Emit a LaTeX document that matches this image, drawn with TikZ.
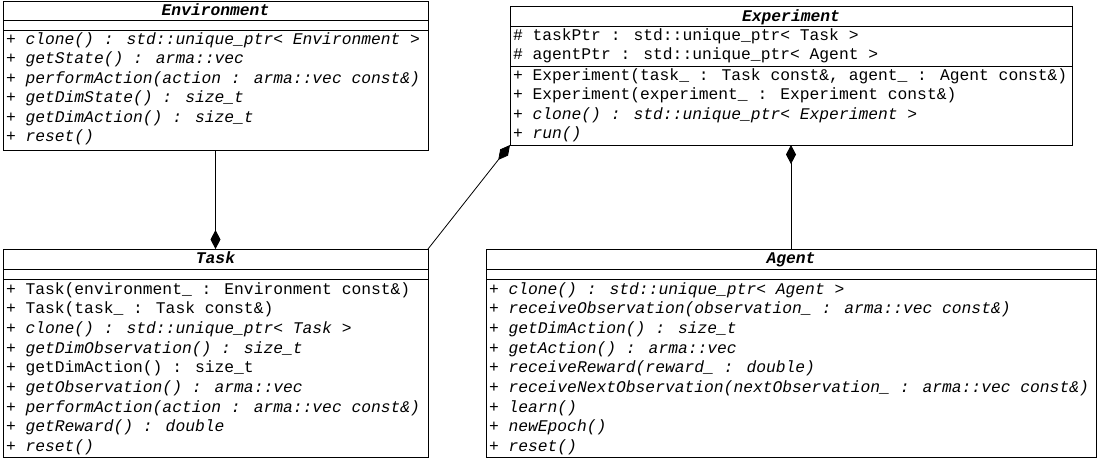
\documentclass[tikz,border=0pt]{standalone}
\usepackage{fontspec}
\newfontfamily\umlfont{Liberation Mono}
\usetikzlibrary{arrows.meta}
\begin{document}
\begin{tikzpicture}[x=1pt,y=-1pt,line width=1pt,
  cls/.style={draw, anchor=north west, inner sep=0pt, outer sep=0pt},
  txt/.style={anchor=base west, inner sep=0pt, outer sep=0pt, font=\umlfont\fontsize{16.3}{19}\selectfont},
  itx/.style={txt, font=\umlfont\fontsize{16.3}{19}\selectfont\itshape},
  ttl/.style={anchor=base, inner sep=0pt, outer sep=0pt, font=\umlfont\fontsize{16.3}{19}\selectfont\bfseries\itshape},
  comp/.style={-{Diamond[length=19pt,width=10pt]}, line width=0.8pt}]
\useasboundingbox[fill=white] (0,0) rectangle (1100,459);

% ---------- Environment ----------
\node[cls, minimum width=425pt, minimum height=149pt] (env) at (3,1) {};
\draw (3,20) -- (428,20);
\draw (3,30) -- (428,30);
\node[ttl] (envt) at (215.5,15) {Environment};
\node[itx] (e1) at (6,44) {+ clone() : std::unique\_ptr< Environment >};
\node[itx] (e2) at (6,63.5) {+ getState() : arma::vec};
\node[itx] (e3) at (6,83) {+ performAction(action : arma::vec const\&)};
\node[itx] (e4) at (6,102.5) {+ getDimState() : size\_t};
\node[itx] (e5) at (6,122) {+ getDimAction() : size\_t};
\node[itx] (e6) at (6,141.5) {+ reset()};

% ---------- Experiment ----------
\node[cls, minimum width=562pt, minimum height=139pt] (exp) at (510,6) {};
\draw (510,26) -- (1072,26);
\draw (510,66) -- (1072,66);
\node[ttl] (expt) at (791,21) {Experiment};
\node[txt] (x1) at (513,40) {\# taskPtr : std::unique\_ptr< Task >};
\node[txt] (x2) at (513,59.5) {\# agentPtr : std::unique\_ptr< Agent >};
\node[txt] (x3) at (513,80) {+ Experiment(task\_ : Task const\&, agent\_ : Agent const\&)};
\node[txt] (x4) at (513,99.5) {+ Experiment(experiment\_ : Experiment const\&)};
\node[itx] (x5) at (513,119) {+ clone() : std::unique\_ptr< Experiment >};
\node[itx] (x6) at (513,138.5) {+ run()};

% ---------- Task ----------
\node[cls, minimum width=425pt, minimum height=208.5pt] (task) at (3,249) {};
\draw (3,269) -- (428,269);
\draw (3,279) -- (428,279);
\node[ttl] (taskt) at (215.5,263) {Task};
\node[txt] (t1) at (6,294) {+ Task(environment\_ : Environment const\&)};
\node[txt] (t2) at (6,313.7) {+ Task(task\_ : Task const\&)};
\node[itx] (t3) at (6,333.4) {+ clone() : std::unique\_ptr< Task >};
\node[itx] (t4) at (6,353.1) {+ getDimObservation() : size\_t};
\node[txt] (t5) at (6,372.8) {+ getDimAction() : size\_t};
\node[itx] (t6) at (6,392.5) {+ getObservation() : arma::vec};
\node[itx] (t7) at (6,412.2) {+ performAction(action : arma::vec const\&)};
\node[itx] (t8) at (6,431.9) {+ getReward() : double};
\node[itx] (t9) at (6,451.6) {+ reset()};

% ---------- Agent ----------
\node[cls, minimum width=610pt, minimum height=208.5pt] (agent) at (486,249) {};
\draw (486,269) -- (1096,269);
\draw (486,279) -- (1096,279);
\node[ttl] (agentt) at (791,263) {Agent};
\node[itx] (a1) at (489,294) {+ clone() : std::unique\_ptr< Agent >};
\node[itx] (a2) at (489,313.7) {+ receiveObservation(observation\_ : arma::vec const\&)};
\node[itx] (a3) at (489,333.4) {+ getDimAction() : size\_t};
\node[itx] (a4) at (489,353.1) {+ getAction() : arma::vec};
\node[itx] (a5) at (489,372.8) {+ receiveReward(reward\_ : double)};
\node[itx] (a6) at (489,392.5) {+ receiveNextObservation(nextObservation\_ : arma::vec const\&)};
\node[itx] (a7) at (489,412.2) {+ learn()};
\node[itx] (a8) at (489,431.9) {+ newEpoch()};
\node[itx] (a9) at (489,451.6) {+ reset()};

% ---------- Connectors ----------
\draw[comp] (env.south) -- (task.north);
\draw[comp] (task.north east) -- (exp.south west);
\draw[comp] (agent.north) -- (exp.south);
\end{tikzpicture}
\end{document}
